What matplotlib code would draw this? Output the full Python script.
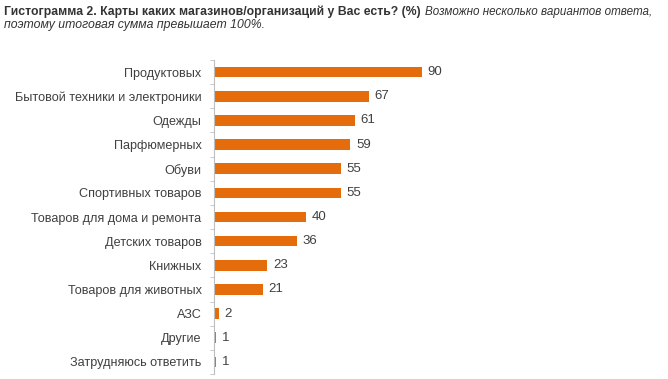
import matplotlib.pyplot as plt
import numpy as np

categories = ["Продуктовых", "Бытовой техники и электроники", "Одежды",
              "Парфюмерных", "Обуви", "Спортивных товаров",
              "Товаров для дома и ремонта", "Детских товаров", "Книжных",
              "Товаров для животных", "АЗС", "Другие", "Затрудняюсь ответить"]
values = [90, 67, 61, 59, 55, 55, 40, 36, 23, 21, 2, 1, 1]

plt.rcParams['font.family'] = ['Liberation Sans', 'DejaVu Sans']

fig = plt.figure(figsize=(6.68, 3.79), dpi=100)
ax = fig.add_axes([214 / 668, 1 - 374 / 379, 231 / 668, 314 / 379])

y = np.arange(len(categories))
ax.barh(y, values, height=0.44, color="#E46C0A")
for yi, v in zip(y, values):
  ax.text(v + 2.5, yi, f"{v}", va="center", ha="left", fontsize=9.5, color="#404040")

ax.set_ylim(len(categories) - 0.5, -0.5)
ax.set_xlim(0, 100)
ax.set_yticks(y)
ax.set_yticklabels(categories, fontsize=9.1, color="#404040")
ax.set_yticks(np.arange(len(categories) + 1) - 0.5, minor=True)
ax.tick_params(axis="y", which="major", length=0, pad=9)
ax.tick_params(axis="y", which="minor", length=3, color="#BFBFBF")
ax.set_xticks([])
for s in ["top", "right", "bottom"]:
  ax.spines[s].set_visible(False)
ax.spines["left"].set_color("#BFBFBF")

# title: bold part, then italic part placed right after it
t1 = fig.text(0.006, 1 - 12 / 379, "Гистограмма 2. Карты каких магазинов/организаций у Вас есть? (%)",
              fontsize=8.8, fontweight="bold", color="#333333", va="center", ha="left")
fig.canvas.draw()
bb = t1.get_window_extent()
fig.text(bb.x1 / fig.bbox.width + 0.006, 1 - 12 / 379, "Возможно несколько вариантов ответа,",
         fontsize=8.4, style="italic", color="#333333", va="center", ha="left")
fig.text(0.006, 1 - 25 / 379, "поэтому итоговая сумма превышает 100%.",
         fontsize=8.8, style="italic", color="#333333", va="center", ha="left")

fig.savefig("out.png", dpi=100)
